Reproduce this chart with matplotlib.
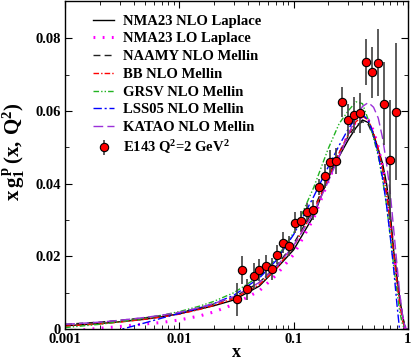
import numpy as np
import matplotlib
matplotlib.use('Agg')
import matplotlib.pyplot as plt

plt.rcParams['font.family'] = 'Liberation Serif'
plt.rcParams['font.weight'] = 'bold'
plt.rcParams['axes.labelweight'] = 'bold'
plt.rcParams['mathtext.fontset'] = 'custom'
plt.rcParams['mathtext.rm'] = 'Liberation Serif:bold'
plt.rcParams['mathtext.it'] = 'Liberation Serif:bold'
plt.rcParams['mathtext.bf'] = 'Liberation Serif:bold'

nan = np.nan

# E143 data, Q^2 = 2 GeV^2
x_data = [0.0316, 0.0353, 0.0394, 0.0445, 0.0498, 0.0569, 0.0647, 0.0720, 0.0801, 0.0910,
          0.1028, 0.1160, 0.1306, 0.1475, 0.1663, 0.1866, 0.2090, 0.2360, 0.2640, 0.2980,
          0.3390, 0.3820, 0.4310, 0.4870, 0.5450, 0.6150, 0.6940, 0.7820]
y_data = [0.0082, 0.0162, 0.0109, 0.0145, 0.0162, 0.0173, 0.0166, 0.0205, 0.0238, 0.0229,
          0.0293, 0.0297, 0.0322, 0.0328, 0.0390, 0.0421, 0.0459, 0.0463, 0.0625, 0.0575,
          0.0588, 0.0595, 0.0735, 0.0706, 0.0732, 0.0620, 0.0465, 0.0598]
y_err = [0.0045, 0.0039, 0.0030, 0.0036, 0.0030, 0.0032, 0.0030, 0.0027, 0.0028, 0.0027,
         0.0030, 0.0027, 0.0025, 0.0027, 0.0022, 0.0032, 0.0034, 0.0036, 0.0042, 0.0044,
         0.0050, 0.0055, 0.0063, 0.0071, 0.0092, 0.0115, 0.0164, 0.0189]

# model curves
x_curve = [0.001, 0.002, 0.003, 0.005, 0.007, 0.01, 0.015, 0.02, 0.03, 0.05, 0.07, 0.1,
           0.15, 0.2, 0.25, 0.3, 0.35, 0.4, 0.45, 0.5, 0.55, 0.6, 0.65, 0.7, 0.75, 0.8,
           0.85, 0.9, 0.95, 1.0]
nma_nlo = [0.0009, 0.0015, 0.0020, 0.0027, 0.0034, 0.0042, 0.0055, 0.0064, 0.0080, 0.0118,
           0.0165, 0.0218, 0.0312, 0.0415, 0.0475, 0.0520, 0.0553, 0.0575, 0.0568, 0.0535,
           0.0495, 0.0455, 0.0400, 0.0320, 0.0215, 0.0145, 0.0080, 0.0035, 0.0, 0.0]
nma_lo = [-0.0006, 0.0002, 0.0007, 0.0014, 0.0018, 0.0025, 0.0036, 0.0047, 0.0068, 0.0105,
          0.0148, 0.0205, 0.0305, 0.0405, 0.0480, 0.0535, 0.0570, 0.0585, 0.0575, 0.0545,
          0.0500, 0.0445, 0.0375, 0.0300, 0.0215, 0.0140, 0.0075, 0.0025, 0.0, 0.0]
naamy = [0.0013, 0.0019, 0.0024, 0.0031, 0.0037, 0.0045, 0.0058, 0.0069, 0.0088, 0.0128,
         0.0172, 0.0235, 0.0330, 0.0420, 0.0485, 0.0530, 0.0560, 0.0570, 0.0562, 0.0530,
         0.0490, 0.0440, 0.0375, 0.0300, 0.0220, 0.0145, 0.0080, 0.0030, 0.0, 0.0]
bb = [0.0008, 0.0014, 0.0019, 0.0027, 0.0033, 0.0041, 0.0054, 0.0065, 0.0084, 0.0122,
      0.0165, 0.0228, 0.0325, 0.0415, 0.0485, 0.0535, 0.0570, 0.0585, 0.0575, 0.0540,
      0.0495, 0.0440, 0.0370, 0.0290, 0.0205, 0.0130, 0.0065, 0.0020, 0.0, 0.0]
grsv = [0.0004, 0.0013, 0.0020, 0.0030, 0.0038, 0.0048, 0.0063, 0.0076, 0.0100, 0.0145,
        0.0193, 0.0265, 0.0390, 0.0495, 0.0565, 0.0600, 0.0625, 0.0620, 0.0575, 0.0525,
        0.0475, 0.0410, 0.0340, 0.0255, 0.0175, 0.0105, 0.0045, 0.0010, 0.0, 0.0]
lss05 = [-0.0040, -0.0015, -0.0002, 0.0017, 0.0030, 0.0043, 0.0058, 0.0070, 0.0093, 0.0140,
         0.0188, 0.0260, 0.0365, 0.0445, 0.0505, 0.0550, 0.0580, 0.0590, 0.0575, 0.0535,
         0.0480, 0.0415, 0.0340, 0.0255, 0.0165, 0.0070, -0.0010, -0.0080, nan, nan]
katao = [0.0013, 0.0019, 0.0024, 0.0032, 0.0038, 0.0046, 0.0059, 0.0070, 0.0089, 0.0128,
         0.0170, 0.0230, 0.0320, 0.0405, 0.0475, 0.0535, 0.0580, 0.0612, 0.0623, 0.0610,
         0.0580, 0.0525, 0.0455, 0.0375, 0.0275, 0.0180, 0.0095, 0.0035, 0.0, 0.0]

fig = plt.figure(figsize=(4.15, 3.6), dpi=100)
ax = fig.add_axes([0.157, 0.086, 0.826, 0.911])

ax.plot(x_curve, nma_nlo, color='black', lw=1.0, label='NMA23 NLO Laplace')
ax.plot(x_curve, nma_lo, color='#ff00ff', lw=2.2, ls=(0, (0.6, 2.4)), label='NMA23 LO Laplace')
ax.plot(x_curve, naamy, color='#222222', lw=1.0, ls=(0, (5, 3)), label='NAAMY NLO Mellin')
ax.plot(x_curve, bb, color='red', lw=1.0, ls=(0, (4, 1.5, 1, 1.5)), label='BB NLO Mellin')
ax.plot(x_curve, grsv, color='#22b322', lw=1.0, ls=(0, (4, 1.5, 1, 1.5, 1, 1.5)), label='GRSV NLO Mellin')
ax.plot(x_curve, lss05, color='blue', lw=1.0, ls=(0, (6, 2, 1.5, 2)), label='LSS05 NLO Mellin')
ax.plot(x_curve, katao, color='#9b30d9', lw=1.0, ls=(0, (7, 3)), label='KATAO NLO Mellin')

ax.errorbar(x_data, y_data, yerr=y_err, fmt='o', ms=6, mfc='red', mec='black', mew=0.8,
            ecolor='0.25', elinewidth=1.2, capsize=0, label=r'E143 Q$^2$=2 GeV$^2$')

ax.set_xscale('log')
ax.set_xlim(0.001, 1)
ax.set_ylim(0, 0.0902)
ax.set_xticks([0.001, 0.01, 0.1, 1])
ax.set_xticklabels(['0.001', '0.01', '0.1', '1'])
ax.set_yticks([0, 0.02, 0.04, 0.06, 0.08])
ax.set_yticklabels(['0', '0.02', '0.04', '0.06', '0.08'])
ax.set_yticks(np.arange(0.01, 0.09, 0.02), minor=True)
ax.tick_params(which='both', direction='in', top=True, right=True, labelsize=10.5, pad=3)
ax.tick_params(which='major', length=5)
ax.tick_params(which='minor', length=3)
for s in ax.spines.values():
    s.set_linewidth(1.0)

ax.set_xlabel('x', fontsize=13, fontweight='bold')
ax.xaxis.set_label_coords(0.5, -0.045)
ax.set_ylabel(r'$\mathrm{x\,g_1^{\,p}\,(x,\,Q^2)}$', fontsize=15)
ax.yaxis.set_label_coords(-0.11, 0.54)

ax.legend(loc='upper left', bbox_to_anchor=(0.08, 0.959), frameon=False, fontsize=10.5,
          handlelength=1.5, handletextpad=0.6, labelspacing=0.31, borderpad=0, borderaxespad=0)

fig.savefig('out.png', dpi=100)
